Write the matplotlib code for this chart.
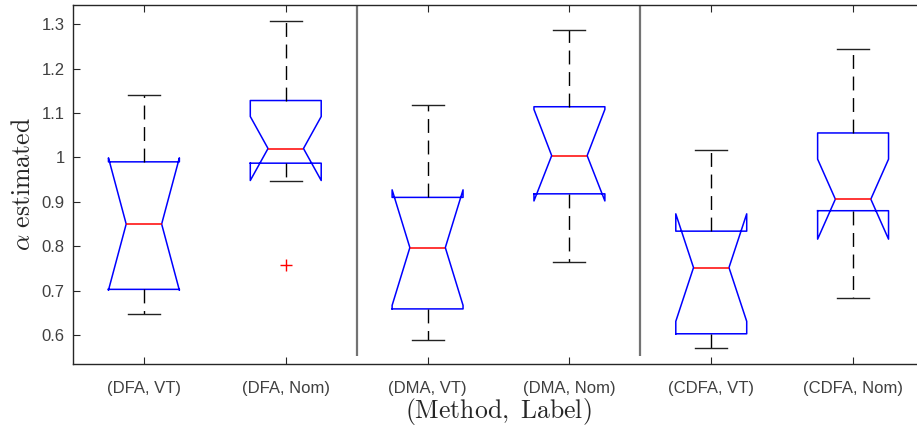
import matplotlib
matplotlib.use("Agg")
import matplotlib.pyplot as plt

plt.rcParams['mathtext.fontset'] = 'cm'
plt.rcParams['font.family'] = ['Liberation Sans', 'DejaVu Sans']

# box statistics
labels = ['(DFA, VT)', '(DFA, Nom)', '(DMA, VT)', '(DMA, Nom)', '(CDFA, VT)', '(CDFA, Nom)']
whislo = [0.648, 0.948, 0.588, 0.765, 0.570, 0.683]
q1 = [0.703, 0.987, 0.659, 0.918, 0.603, 0.880]
med = [0.850, 1.020, 0.797, 1.004, 0.752, 0.906]
q3 = [0.990, 1.128, 0.910, 1.114, 0.834, 1.055]
whishi = [1.141, 1.306, 1.117, 1.287, 1.017, 1.245]
cilo = [0.701, 0.948, 0.667, 0.902, 0.631, 0.816]
cihi = [0.999, 1.092, 0.927, 1.108, 0.873, 0.996]
fliers = [[], [0.757], [], [], [], []]
separators = [2.5, 4.5]

stats = []
for i in range(len(labels)):
    stats.append(dict(med=med[i], q1=q1[i], q3=q3[i], whislo=whislo[i], whishi=whishi[i],
                      cilo=cilo[i], cihi=cihi[i], fliers=fliers[i]))

fig = plt.figure(figsize=(9.17, 4.28), dpi=100)
ax = fig.add_axes([73 / 917, 64 / 428, (924 - 73) / 917, (364 - 5) / 428])

ax.bxp(stats, positions=range(1, 7), widths=0.5, capwidths=0.225, shownotches=True,
       boxprops=dict(color='blue', lw=1.1),
       medianprops=dict(color='red', lw=1.1),
       whiskerprops=dict(color='black', lw=1.0, linestyle=(0, (10, 5.5))),
       capprops=dict(color='#222222', lw=1.0),
       flierprops=dict(marker='+', markeredgecolor='red', markersize=8, markeredgewidth=1.0))

ax.set_xlim(0.5, 6.5)
ax.set_ylim(0.535, 1.343)
ax.vlines(separators, 0.552, 1.343, color='0.45', lw=1.6)

ax.set_xticks(range(1, 7))
ax.set_xticklabels(labels)
ax.set_yticks([0.6, 0.7, 0.8, 0.9, 1.0, 1.1, 1.2, 1.3])
ax.set_yticklabels(['0.6', '0.7', '0.8', '0.9', '1', '1.1', '1.2', '1.3'])
ax.tick_params(direction='in', length=5, top=True, right=True, labelsize=12,
               color='#262626', labelcolor='#404040', width=0.8)
ax.tick_params(axis='x', pad=12)
ax.tick_params(axis='y', pad=6)
for s in ax.spines.values():
    s.set_color('#262626')
    s.set_linewidth(1.0)

ax.set_ylabel(r'$\alpha\ \mathrm{estimated}$', fontsize=18.5, color='#262626', labelpad=5)
ax.set_xlabel(r'$\mathrm{(Method,\ Label)}$', fontsize=18.5, color='#262626', labelpad=0)

fig.savefig('out.png', dpi=100)
